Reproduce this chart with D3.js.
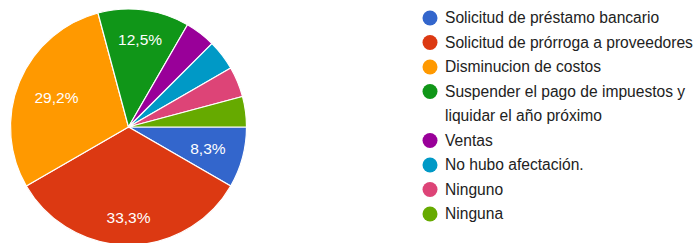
<!DOCTYPE html>
<html><head><meta charset="utf-8">
<script src="https://cdn.jsdelivr.net/npm/d3@7"></script>
<style>body{margin:0;background:#fff;}svg{display:block;font-family:"Liberation Sans",Arial,sans-serif;}</style>
</head><body>
<svg id="c" width="699" height="243"></svg>
<script>
const categories = ["Solicitud de préstamo bancario","Solicitud de prórroga a proveedores","Disminucion de costos","Suspender el pago de impuestos y liquidar el año próximo","Ventas","No hubo afectación.","Ninguno","Ninguna"];
const legendLines = [["Solicitud de préstamo bancario"],["Solicitud de prórroga a proveedores"],["Disminucion de costos"],["Suspender el pago de impuestos y","liquidar el año próximo"],["Ventas"],["No hubo afectación."],["Ninguno"],["Ninguna"]];
const values = [2,8,7,3,1,1,1,1];
const colors = ["#3366cc","#dc3912","#ff9900","#109618","#990099","#0099c6","#dd4477","#66aa00"];

const svg = d3.select("#c");
const cx = 128.5, cy = 127, R = 118;
const total = d3.sum(values);
const pie = d3.pie().sort(null).startAngle(Math.PI/2).endAngle(Math.PI/2 + 2*Math.PI);
const arcs = pie(values);
const arc = d3.arc().innerRadius(0).outerRadius(R);
const g = svg.append("g").attr("transform",`translate(${cx},${cy})`);
g.selectAll("path").data(arcs).enter().append("path")
  .attr("d",arc).attr("fill",(d,i)=>colors[i]).attr("stroke","#fff").attr("stroke-width",1.2);
const D = R*0.86;
g.selectAll("text").data(arcs.filter(d=>d.value/total>0.05)).enter().append("text")
  .attr("text-anchor","middle").attr("dy","0.35em")
  .attr("fill","#fff").attr("font-size",15.5)
  .text(d=>(d.value/total*100).toFixed(1).replace(".",",")+"%")
  .each(function(d){
    const bb = this.getBBox();
    const hw = bb.width/2, hh = 8;
    const a = (d.startAngle+d.endAngle)/2;
    const sx = Math.sin(a), sy = -Math.cos(a);
    const b = Math.abs(sx)*hw + Math.abs(sy)*hh;
    const c = hw*hw + hh*hh - D*D;
    const t = -b + Math.sqrt(b*b - c);
    d3.select(this).attr("transform",`translate(${t*sx},${t*sy})`);
  });

const lg = svg.append("g");
let y = 18;
legendLines.forEach((lines,i)=>{
  lg.append("circle").attr("cx",430).attr("cy",y).attr("r",7.5).attr("fill",colors[i]);
  lines.forEach((t,j)=>{
    lg.append("text").attr("x",445).attr("y",y+j*24).attr("dy","0.35em")
      .attr("font-size",15.6).attr("fill","#222").text(t);
  });
  y += 24.5*lines.length;
});
</script>
</body></html>
